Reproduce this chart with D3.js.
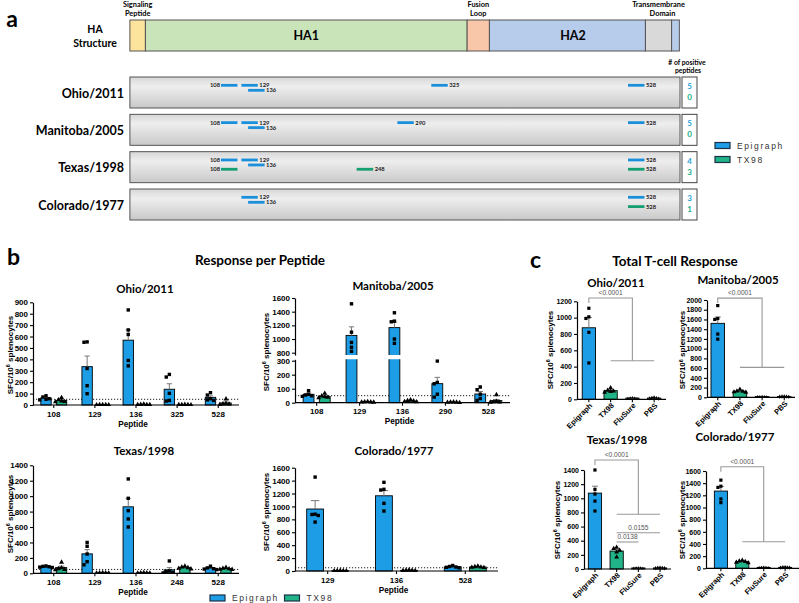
<!DOCTYPE html>
<html>
<head>
<meta charset="utf-8">
<script src="https://cdn.jsdelivr.net/npm/d3@7"></script>
<style>
  body { margin: 0; background: #fff; }
  svg text { font-family: "Liberation Sans", Arial, sans-serif; }
  .cal { font-family: Lato, "Open Sans", sans-serif; font-weight: bold; }
</style>
</head>
<body>
<svg id="fig" width="799" height="603"></svg>
<script>
"use strict";

// ---------- panel a : HA structure and positive peptides
const haParts = ["Signaling Peptide", "HA1", "Fusion Loop", "HA2", "Transmembrane Domain", "Tail"];
const haPartStart = [14, 30, 362, 385, 546, 573];
const haPartEnd = [30, 362, 385, 546, 573, 581];
const strainNames = ["Ohio/2011", "Manitoba/2005", "Texas/1998", "Colorado/1977"];
const epigraphPeptides = [[108, 129, 136, 325, 528], [108, 129, 136, 290, 528], [108, 129, 136, 528], [129, 136, 528]];
const tx98Peptides = [[], [], [108, 248, 528], [528]];
const peptideLength = 17;

// ---------- panel b : response per peptide (mean, SEM, mice)
const ohioPeptides = ["108", "129", "136", "325", "528"];
const ohioEpiMean = [62, 336, 568, 138, 67];
const ohioEpiSem = [7, 93, 90, 48, 13];
const ohioEpiPts = [[81, 70, 55, 50, 45], [553, 550, 320, 169, 99], [833, 658, 618, 390, 343], [268, 245, 102, 40, 35], [108, 87, 55, 45, 40]];
const ohioTxMean = [40, 2, 4, 3, 18];
const ohioTxSem = [8, 1, 1, 1, 8];
const ohioTxPts = [[65, 45, 35, 30, 28], [3, 2, 2, 1, 1], [8, 5, 4, 3, 2], [5, 3, 3, 2, 1], [53, 15, 10, 8, 5]];

const manPeptides = ["108", "129", "136", "290", "528"];
const manEpiMean = [60, 1053, 1167, 136, 62];
const manEpiSem = [8, 125, 80, 45, 18];
const manEpiPts = [[86, 60, 55, 50, 45], [1515, 1100, 950, 880, 820], [1384, 1252, 1262, 1000, 937], [298, 145, 135, 60, 40], [112, 92, 60, 30, 16]];
const manTxMean = [45, 5, 12, 3, 15];
const manTxSem = [7, 1, 3, 1, 8];
const manTxPts = [[67, 48, 42, 38, 35], [8, 6, 5, 4, 3], [20, 15, 12, 8, 6], [5, 4, 3, 2, 1], [57, 10, 6, 4, 3]];

const texPeptides = ["108", "129", "136", "248", "528"];
const texEpiMean = [85, 252, 862, 45, 65];
const texEpiSem = [4, 55, 110, 28, 8];
const texEpiPts = [[95, 90, 85, 80, 75], [400, 350, 250, 150, 110], [1223, 972, 812, 704, 600], [160, 30, 20, 10, 5], [92, 70, 60, 55, 48]];
const texTxMean = [74, 5, 5, 73, 60];
const texTxSem = [18, 1, 1, 6, 5];
const texTxPts = [[143, 70, 60, 50, 47], [8, 6, 5, 3, 3], [9, 6, 5, 3, 2], [92, 80, 72, 65, 56], [75, 65, 58, 52, 50]];

const colPeptides = ["129", "136", "528"];
const colEpiMean = [960, 1165, 65];
const colEpiSem = [130, 80, 7];
const colEpiPts = [[1455, 880, 875, 860, 758], [1373, 1254, 1265, 1048, 929], [85, 70, 62, 57, 50]];
const colTxMean = [5, 10, 62];
const colTxSem = [1, 2, 5];
const colTxPts = [[8, 6, 5, 3, 2], [15, 12, 10, 7, 5], [75, 66, 60, 56, 52]];

// ---------- panel c : total T-cell response
const groups = ["Epigraph", "TX98", "FluSure", "PBS"];
const ohioTotalMean = [876, 106, 15, 15];
const ohioTotalSem = [125, 10, 2, 2];
const ohioTotalPts = [[1115, 1010, 990, 820, 445], [140, 110, 100, 95, 85], [20, 17, 15, 12, 10], [22, 18, 15, 12, 8]];
const manTotalMean = [1520, 125, 15, 15];
const manTotalSem = [130, 12, 2, 2];
const manTotalPts = [[1885, 1620, 1600, 1300, 1195], [165, 130, 120, 110, 100], [20, 17, 15, 12, 10], [20, 17, 15, 12, 10]];
const texTotalMean = [1073, 254, 15, 15];
const texTotalSem = [98, 24, 2, 2];
const texTotalPts = [[1400, 1125, 1060, 960, 820], [305, 290, 265, 240, 170], [20, 17, 15, 12, 10], [20, 17, 15, 12, 10]];
const colTotalMean = [1270, 110, 15, 15];
const colTotalSem = [75, 8, 2, 2];
const colTotalPts = [[1450, 1350, 1330, 1140, 1080], [130, 120, 110, 100, 90], [20, 17, 15, 12, 10], [20, 17, 15, 12, 10]];
const mainPValue = "<0.0001";
const texPairLabels = ["0.0155", "0.0138"];

// ---------- styles
const BLUE = "#1c9de6", GREEN = "#21b488";
const PEP_BLUE = "#1b8fda", PEP_GREEN = "#179f74";
const partFill = ["#fde49c", "#cae4ba", "#f8c6a8", "#b7cbeb", "#d9d9d9", "#b7cbeb"];
const groupFill = [BLUE, GREEN, "#ffffff", "#ffffff"];
const groupSym = [d3.symbolSquare, d3.symbolTriangle, d3.symbolTriangle2, d3.symbolDiamond];
const fmt = d3.format("d");

const svg = d3.select("#fig");
const defs = svg.append("defs");
let clipCount = 0;

function txt(g, x, y, s, size, opts) {
  opts = opts || {};
  return g.append("text").attr("x", x).attr("y", y).text(s)
    .attr("font-size", size)
    .attr("font-weight", opts.weight || "bold")
    .attr("text-anchor", opts.anchor || "middle")
    .attr("fill", opts.fill || "#000")
    .attr("class", opts.cls || null);
}

function styleAxis(a, fs) {
  a.attr("font-family", "Liberation Sans, Arial, sans-serif").attr("font-size", fs).attr("font-weight", "bold");
  a.select(".domain").attr("stroke", "#000").attr("stroke-width", 1.2);
  a.selectAll(".tick line").attr("stroke", "#000").attr("stroke-width", 1.1);
  a.selectAll(".tick text").attr("fill", "#000");
}

function yLabel(g, cx, cy) {
  const t = g.append("text").attr("transform", "translate(" + cx + "," + cy + ") rotate(-90)")
    .attr("text-anchor", "middle").attr("font-size", 8).attr("font-weight", "bold").attr("dy", "0.35em");
  t.append("tspan").text("SFC/10");
  t.append("tspan").text("6").attr("font-size", 5.5).attr("dy", "-0.45em");
  t.append("tspan").text(" splenocytes").attr("dy", "0.3em");
}

// place mice without overlap, a simple swarm
function swarm(vals, y, sz) {
  const placed = [], out = [];
  const s = sz * 0.8;
  const order = vals.map(function (v, i) { return i; }).sort(function (a, b) { return vals[b] - vals[a]; });
  order.forEach(function (i) {
    const py = y(vals[i]);
    const cands = [0, -s, s, -2 * s, 2 * s, -3 * s, 3 * s];
    let ox = 0;
    for (const c of cands) {
      const free = placed.every(function (p) { return Math.abs(p[0] - c) >= s * 0.95 || Math.abs(p[1] - py) >= sz * 0.9; });
      if (free) { ox = c; break; }
    }
    placed.push([ox, py]);
    out[i] = [ox, py];
  });
  return out;
}

function dots(g, vals, y, cx, sym, sz) {
  const pos = swarm(vals, y, sz + 0.4);
  g.selectAll(null).data(pos).enter().append("path")
    .attr("d", d3.symbol().type(sym).size(sz * sz * 0.95))
    .attr("transform", function (p) { return "translate(" + (cx + p[0]) + "," + p[1] + ")"; })
    .attr("fill", "#000");
}

function errorBar(g, cx, yTop, yErr, cap) {
  g.append("line").attr("x1", cx).attr("x2", cx).attr("y1", yTop).attr("y2", yErr)
    .attr("stroke", "#777").attr("stroke-width", 1);
  g.append("line").attr("x1", cx - cap / 2).attr("x2", cx + cap / 2).attr("y1", yErr).attr("y2", yErr)
    .attr("stroke", "#777").attr("stroke-width", 1);
}

function legend(g, x, y) {
  [["Epigraph", BLUE], ["TX98", GREEN]].forEach(function (d, i) {
    const lx = x[i], ly = y[i];
    g.append("rect").attr("x", lx).attr("y", ly - 3).attr("width", 15).attr("height", 6)
      .attr("fill", d[1]).attr("stroke", "#1b2f45").attr("stroke-width", 1.2);
    g.append("text").attr("x", lx + 22).attr("y", ly + 3).text(d[0])
      .attr("font-size", 8.5).attr("letter-spacing", 1.6).attr("fill", "#333");
  });
}

// ================= panel a
(function () {
  const g = svg.append("g");
  const aa = d3.scaleLinear().domain([108, 528]).range([221, 628]);
  const rowTop = d3.scaleLinear().domain([0, 3]).range([77, 189]);
  const rowH = 31;

  txt(g, 12, 27, "a", 23, { cls: "cal" });
  txt(g, 95, 33, "HA", 10.5, { cls: "cal" });
  txt(g, 95, 47, "Structure", 10.5, { cls: "cal" });

  haParts.forEach(function (name, i) {
    g.append("rect").attr("x", aa(haPartStart[i])).attr("y", 20)
      .attr("width", aa(haPartEnd[i]) - aa(haPartStart[i])).attr("height", 31)
      .attr("fill", partFill[i]).attr("stroke", "#555").attr("stroke-width", 1);
  });
  txt(g, (aa(haPartStart[1]) + aa(haPartEnd[1])) / 2, 40, haParts[1], 12.5, { cls: "cal" });
  txt(g, 573, 40, haParts[3], 12.5, { cls: "cal" });
  const above = [[0, ["Signaling", "Peptide"], 0], [2, ["Fusion", "Loop"], 0], [4, ["Transmembrane", "Domain"], 4]];
  above.forEach(function (d) {
    const cx = (aa(haPartStart[d[0]]) + aa(haPartEnd[d[0]])) / 2;
    txt(g, cx, 6.5, d[1][0], 7.4, { cls: "cal" });
    txt(g, cx + d[2], 15.5, d[1][1], 7.4, { cls: "cal" });
  });
  txt(g, 687, 64.5, "# of positive", 6.8, { cls: "cal" });
  txt(g, 688, 73, "peptides", 6.8, { cls: "cal" });

  const grad = defs.append("linearGradient").attr("id", "rowGrad").attr("x1", 0).attr("y1", 0).attr("x2", 0).attr("y2", 1);
  grad.append("stop").attr("offset", 0).attr("stop-color", "#d6d6d6");
  grad.append("stop").attr("offset", 0.3).attr("stop-color", "#eeeeee");
  grad.append("stop").attr("offset", 1).attr("stop-color", "#c9c9c9");

  strainNames.forEach(function (s, i) {
    const top = rowTop(i);
    txt(g, 124, top + rowH / 2 + 5, s, 12.5, { anchor: "end", cls: "cal" });
    g.append("rect").attr("x", aa(14)).attr("y", top).attr("width", 680 - aa(14)).attr("height", rowH)
      .attr("fill", "url(#rowGrad)").attr("stroke", "#555").attr("stroke-width", 1);
    g.append("rect").attr("x", 682).attr("y", top).attr("width", 15).attr("height", rowH)
      .attr("fill", "#fff").attr("stroke", "#444").attr("stroke-width", 1);
    txt(g, 689.5, top + 12, epigraphPeptides[i].length, 8, { fill: "#2a9fd8", cls: "cal" });
    txt(g, 689.5, top + 23, tx98Peptides[i].length, 8, { fill: "#17b088", cls: "cal" });

    const laneY = [top + 8.3, top + 13.3, top + 17.6];
    let lastEnd = -1;
    const items = epigraphPeptides[i].map(function (p) {
      const lane = p < lastEnd ? 1 : 0;
      if (lane === 0) lastEnd = p + peptideLength;
      return { p: p, lane: lane, c: PEP_BLUE };
    }).concat(tx98Peptides[i].map(function (p) { return { p: p, lane: 2, c: PEP_GREEN }; }));
    items.forEach(function (d) {
      const x0 = aa(d.p), x1 = aa(d.p + peptideLength), yy = laneY[d.lane];
      g.append("rect").attr("x", x0).attr("y", yy - 1.4).attr("width", x1 - x0).attr("height", 2.8).attr("fill", d.c);
      const left = d.p === 108;
      txt(g, left ? x0 - 1 : x1 + 1.5, yy + 2, d.p, 5.8, { anchor: left ? "end" : "start", fill: "#222", cls: "cal" });
    });
  });

  legend(g, [715, 715], [145.5, 159.5]);
})();

// ================= panel b
function peptidePanel(p) {
  const g = svg.append("g");
  const x = d3.scaleBand().domain(p.cats).range([p.x0, p.x1]).paddingInner(p.pi).paddingOuter(p.po);
  const xs = d3.scaleBand().domain(["Epigraph", "TX98"]).range([0, x.bandwidth()]).paddingInner(0.33);
  const series = [
    { key: "Epigraph", mean: p.epiM, sem: p.epiS, pts: p.epiP, fill: BLUE, sym: d3.symbolSquare, sz: 3.5 },
    { key: "TX98", mean: p.txM, sem: p.txS, pts: p.txP, fill: GREEN, sym: d3.symbolTriangle, sz: 3.4 }];
  const bottom = p.segs[0].range[0];

  p.segs.forEach(function (s) {
    const y = d3.scaleLinear().domain(s.domain).range(s.range);
    const id = "clip" + (++clipCount);
    defs.append("clipPath").attr("id", id).append("rect")
      .attr("x", p.x0 - 10).attr("width", p.x1 - p.x0 + 20)
      .attr("y", s.clip[0]).attr("height", s.clip[1] - s.clip[0]);
    const cg = g.append("g").attr("clip-path", "url(#" + id + ")");
    if (s.domain[0] <= 50) {
      cg.append("line").attr("x1", p.x0).attr("x2", p.x1).attr("y1", y(50)).attr("y2", y(50))
        .attr("stroke", "#000").attr("stroke-width", 0.9).attr("stroke-dasharray", "1.2,1.8");
    }
    series.forEach(function (sr) {
      p.cats.forEach(function (c, i) {
        const bx = x(c) + xs(sr.key), bw = xs.bandwidth(), m = sr.mean[i];
        cg.append("rect").attr("x", bx).attr("y", y(m)).attr("width", bw).attr("height", y(0) - y(m))
          .attr("fill", sr.fill).attr("stroke", "#000").attr("stroke-width", 0.9);
        errorBar(cg, bx + bw / 2, y(m), y(m + sr.sem[i]), bw * 0.5);
        dots(cg, sr.pts[i], y, bx + bw / 2, sr.sym, sr.sz);
      });
    });
    const ax = g.append("g").attr("transform", "translate(" + p.x0 + ",0)")
      .call(d3.axisLeft(y).tickValues(s.ticks).tickFormat(fmt).tickSize(3).tickPadding(2).tickSizeOuter(0));
    styleAxis(ax, 8);
  });

  const xa = g.append("g").attr("transform", "translate(0," + bottom + ")")
    .call(d3.axisBottom(x).tickSize(3).tickPadding(3).tickSizeOuter(0));
  styleAxis(xa, 8);
  xa.select(".domain").attr("d", "M" + p.x0 + ",0H" + p.x1);

  txt(g, p.title[0], p.title[1], p.name, 11.5, { cls: "cal" });
  txt(g, (p.x0 + p.x1) / 2 - 3, bottom + 21.5, "Peptide", 8.2);
  yLabel(g, p.yl[0], p.yl[1]);
}

svg.append("text").attr("x", 7).attr("y", 265).text("b").attr("font-size", 23).attr("class", "cal");
txt(svg, 260, 265, "Response per Peptide", 13.5, { cls: "cal" });

peptidePanel({ name: strainNames[0], cats: ohioPeptides, epiM: ohioEpiMean, epiS: ohioEpiSem, epiP: ohioEpiPts,
  txM: ohioTxMean, txS: ohioTxSem, txP: ohioTxPts, x0: 33, x1: 239, pi: 0.37, po: 0.19,
  segs: [{ domain: [0, 900], range: [405, 302.3], ticks: d3.range(0, 901, 100), clip: [280, 406] }],
  title: [145, 293], yl: [10, 355] });

peptidePanel({ name: strainNames[1], cats: manPeptides, epiM: manEpiMean, epiS: manEpiSem, epiP: manEpiPts,
  txM: manTxMean, txS: manTxSem, txP: manTxPts, x0: 295, x1: 510, pi: 0.37, po: 0.19,
  segs: [{ domain: [0, 310], range: [402.7, 359.3], ticks: d3.range(0, 301, 100), clip: [359.3, 404] },
         { domain: [765, 1600], range: [355.1, 298], ticks: d3.range(800, 1601, 200), clip: [285, 355.1] }],
  title: [393, 290], yl: [266, 352] });

peptidePanel({ name: strainNames[2], cats: texPeptides, epiM: texEpiMean, epiS: texEpiSem, epiP: texEpiPts,
  txM: texTxMean, txS: texTxSem, txP: texTxPts, x0: 33, x1: 239, pi: 0.37, po: 0.19,
  segs: [{ domain: [0, 1400], range: [573.3, 465.3], ticks: d3.range(0, 1401, 200), clip: [450, 574] }],
  title: [144, 455], yl: [10, 514] });

peptidePanel({ name: strainNames[3], cats: colPeptides, epiM: colEpiMean, epiS: colEpiSem, epiP: colEpiPts,
  txM: colTxMean, txS: colTxSem, txP: colTxPts, x0: 295, x1: 498, pi: 0.39, po: 0.17,
  segs: [{ domain: [0, 1600], range: [571, 467.7], ticks: d3.range(0, 1601, 200), clip: [450, 572] }],
  title: [394, 455], yl: [266, 512] });

legend(svg, [210, 284.5], [598, 598]);

// ================= panel c
function totalPanel(p) {
  const g = svg.append("g");
  const x = d3.scaleBand().domain(groups).range([p.x0, p.x1]).paddingInner(0.39).paddingOuter(p.po);
  const y = d3.scaleLinear().domain([0, p.max]).range([p.y0, p.y1]);
  const bw = x.bandwidth();
  const cx = function (k) { return x(k) + bw / 2; };

  groups.forEach(function (k, i) {
    g.append("rect").attr("x", x(k)).attr("y", y(p.mean[i])).attr("width", bw).attr("height", y(0) - y(p.mean[i]))
      .attr("fill", groupFill[i]).attr("stroke", "#000").attr("stroke-width", 0.9);
    errorBar(g, cx(k), y(p.mean[i]), y(p.mean[i] + p.sem[i]), bw * 0.45);
    dots(g, p.pts[i], y, cx(k), groupSym[i], i < 2 ? 3.3 : 2.4);
  });

  const ya = g.append("g").attr("transform", "translate(" + p.x0 + ",0)")
    .call(d3.axisLeft(y).tickValues(d3.range(0, p.max + 1, 200)).tickFormat(fmt).tickSize(3).tickPadding(2).tickSizeOuter(0));
  styleAxis(ya, 7);
  const xa = g.append("g").attr("transform", "translate(0," + p.y0 + ")")
    .call(d3.axisBottom(x).tickSize(3).tickSizeOuter(0));
  styleAxis(xa, 7.5);
  xa.select(".domain").attr("d", "M" + p.x0 + ",0H" + p.x1);
  xa.selectAll(".tick text").attr("text-anchor", "end").attr("dy", "0.35em")
    .attr("transform", "translate(2,5) rotate(-45)").attr("y", 0).attr("x", 0);

  // significance bracket: Epigraph vs the other groups
  const gs = g.append("g").attr("stroke", "#999").attr("stroke-width", 1.1).attr("fill", "none");
  const yt = y(p.sig[0]), yl = y(p.sig[1]);
  gs.append("path").attr("d", "M" + cx("Epigraph") + "," + (yt + 5) + "V" + yt + "H" + cx("FluSure") + "V" + yl);
  gs.append("path").attr("d", "M" + cx("TX98") + "," + yl + "H" + cx("PBS"));
  txt(g, (cx("Epigraph") + cx("FluSure")) / 2, yt - 3, mainPValue, 6.6, { weight: "normal", fill: "#555" });
  if (p.pairs) {
    p.pairs.forEach(function (d, i) {
      const yy = y(d[1]);
      gs.append("path").attr("d", "M" + cx("TX98") + "," + yy + "H" + cx(d[0]));
      txt(g, (cx("TX98") + cx(d[0])) / 2, yy - 2.5, texPairLabels[i], 6.6, { weight: "normal", fill: "#555" });
    });
  }

  txt(g, p.title[0], p.title[1], p.name, 11.5, { cls: "cal" });
  yLabel(g, p.yl[0], p.yl[1]);
}

svg.append("text").attr("x", 530).attr("y", 268).text("c").attr("font-size", 23).attr("class", "cal");
txt(svg, 675, 266, "Total T-cell Response", 13.5, { cls: "cal" });

totalPanel({ name: strainNames[0], mean: ohioTotalMean, sem: ohioTotalSem, pts: ohioTotalPts,
  x0: 577, x1: 666, po: 0.24, y0: 399.3, y1: 301.3, max: 1200, sig: [1240, 472],
  title: [616, 287], yl: [550, 350] });
totalPanel({ name: strainNames[1], mean: manTotalMean, sem: manTotalSem, pts: manTotalPts,
  x0: 707, x1: 795, po: 0.18, y0: 397.3, y1: 300, max: 2000, sig: [2039, 616],
  title: [738, 283.5], yl: [682.5, 350] });
totalPanel({ name: strainNames[2], mean: texTotalMean, sem: texTotalSem, pts: texTotalPts,
  x0: 584, x1: 671, po: 0.2, y0: 569, y1: 470, max: 1400, sig: [1542, 774],
  pairs: [["PBS", 513], ["FluSure", 382]],
  title: [617, 443.5], yl: [557, 520] });
totalPanel({ name: strainNames[3], mean: colTotalMean, sem: colTotalSem, pts: colTotalPts,
  x0: 706, x1: 800, po: 0.39, y0: 568.3, y1: 471, max: 1600, sig: [1671, 437],
  title: [735, 441], yl: [682, 520] });
</script>
</body>
</html>
